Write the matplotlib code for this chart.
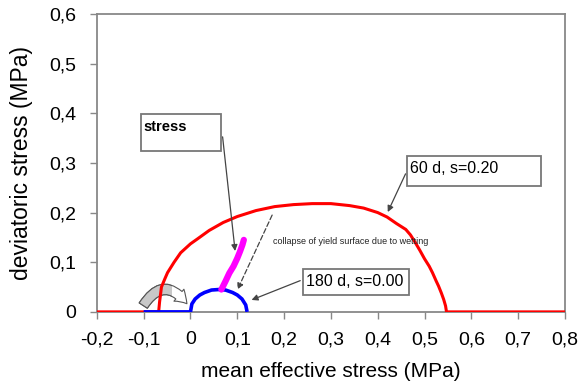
'''Yield surfaces: deviatoric vs mean effective stress'''

import matplotlib
matplotlib.use("Agg")
import matplotlib.pyplot as plt
from matplotlib.patches import Rectangle, FancyArrowPatch

plt.rcParams['font.family'] = ['Liberation Sans', 'DejaVu Sans']

# yield surface 60 d, s=0.20 (red)
red_p = [-0.2, -0.068, -0.066, -0.062, -0.055, -0.049, -0.035, -0.021, 0.0, 0.015,
         0.04, 0.07, 0.1, 0.14, 0.18, 0.22, 0.26, 0.30, 0.34, 0.37, 0.40, 0.42,
         0.44, 0.46, 0.47, 0.48, 0.49, 0.50, 0.51, 0.517, 0.525, 0.53, 0.536,
         0.541, 0.545, 0.547, 0.8]
red_q = [0.0, 0.0, 0.020, 0.050, 0.066, 0.079, 0.100, 0.119, 0.137, 0.147,
         0.164, 0.180, 0.192, 0.204, 0.212, 0.216, 0.218, 0.218, 0.214, 0.209, 0.200, 0.191,
         0.178, 0.166, 0.155, 0.140, 0.124, 0.107, 0.092, 0.079, 0.062, 0.052, 0.038,
         0.025, 0.012, 0.0, 0.0]

# yield surface 180 d, s=0.00 (blue)
blue_p = [-0.1, 0.0, 0.003, 0.01, 0.02, 0.03, 0.045, 0.06, 0.075, 0.09, 0.1, 0.11, 0.118, 0.121]
blue_q = [0.0, 0.0, 0.016, 0.026, 0.034, 0.039, 0.044, 0.045, 0.044, 0.039, 0.034, 0.026, 0.014, 0.0]

# stress path (magenta)
path_p = [0.066, 0.075, 0.083, 0.092, 0.1, 0.106, 0.111, 0.114]
path_q = [0.045, 0.062, 0.078, 0.092, 0.108, 0.122, 0.135, 0.145]

xticks = [-0.2, -0.1, 0, 0.1, 0.2, 0.3, 0.4, 0.5, 0.6, 0.7, 0.8]
yticks = [0, 0.1, 0.2, 0.3, 0.4, 0.5, 0.6]

def fmt(v):
    return '0' if v == 0 else ('%.1f' % v).replace('.', ',')

fig = plt.figure(figsize=(5.8, 3.86), dpi=100)
ax = fig.add_axes([0.167, 0.192, 0.807, 0.772])

ax.plot(red_p, red_q, color='#ff0000', lw=2.2, solid_capstyle='butt', zorder=3)
ax.plot(blue_p, blue_q, color='#0000ff', lw=2.6, solid_capstyle='butt', zorder=4)
ax.plot(path_p, path_q, color='#ff00ff', lw=4.5, solid_capstyle='round', zorder=4)

ax.set_xlim(-0.2, 0.8)
ax.set_ylim(0, 0.6)
ax.set_xticks(xticks)
ax.set_xticklabels([fmt(v) for v in xticks])
ax.set_yticks(yticks)
ax.set_yticklabels([fmt(v) for v in yticks])
ax.tick_params(labelsize=14, color='#888888', length=5, width=1)
ax.tick_params(axis='x', pad=9)
ax.tick_params(axis='y', pad=10)
for s in ax.spines.values():
    s.set_color('#888888')
    s.set_linewidth(1.3)
ax.set_xlabel('mean effective stress (MPa)', fontsize=15)
ax.set_ylabel('deviatoric stress (MPa)', fontsize=16.5)
ax.xaxis.set_label_coords(0.5, -0.168)
ax.yaxis.set_label_coords(-0.137, 0.5)

# label boxes
boxes = [(-0.106, 0.323, 0.172, 0.075, 'stress', 0.372, 'bold', 10.5),
         (0.462, 0.253, 0.287, 0.060, '60 d, s=0.20', 0.289, 'normal', 11.5),
         (0.240, 0.034, 0.226, 0.053, '180 d, s=0.00', 0.061, 'normal', 11.5)]
for x0, y0, w, h, txt, ty, fw, fs in boxes:
    ax.add_patch(Rectangle((x0, y0), w, h, fill=True, facecolor='white',
                           edgecolor='#777777', lw=1.3, zorder=5))
    ax.text(x0 + 0.006, ty, txt, fontsize=fs, fontweight=fw,
            va='center', ha='left', zorder=6)

arrow = dict(arrowstyle='-|>', color='#444444', lw=0.9, mutation_scale=9)
ax.annotate('', xy=(0.096, 0.117), xytext=(0.068, 0.358), arrowprops=arrow, zorder=6)
ax.annotate('', xy=(0.419, 0.196), xytext=(0.462, 0.283), arrowprops=arrow, zorder=6)
ax.annotate('', xy=(0.125, 0.022), xytext=(0.240, 0.065), arrowprops=arrow, zorder=6)
ax.annotate('', xy=(0.098, 0.040), xytext=(0.177, 0.200),
            arrowprops=dict(arrowstyle='-|>', color='#444444', lw=0.9,
                            ls=(0, (4, 2)), mutation_scale=9), zorder=6)

ax.text(0.177, 0.141, 'collapse of yield surface due to wetting', fontsize=6.5,
        va='center', ha='left', color='#222222')

# curved block arrow: white head, gray body
arc_style = 'simple,head_width=0.8,head_length=0.6,tail_width=0.5'
for fc, clip in (('white', None), ('#c8c8c8', -0.04)):
    arc = FancyArrowPatch((-0.104, 0.008), (-0.004, 0.012),
                          connectionstyle='arc3,rad=-0.75', arrowstyle=arc_style,
                          mutation_scale=14, facecolor=fc,
                          edgecolor='#555555', lw=0.8, zorder=2)
    ax.add_patch(arc)
    if clip is not None:
        arc.set_clip_path(Rectangle((-0.2, 0), clip + 0.2, 0.2, transform=ax.transData))

fig.savefig('out.png', dpi=100)
